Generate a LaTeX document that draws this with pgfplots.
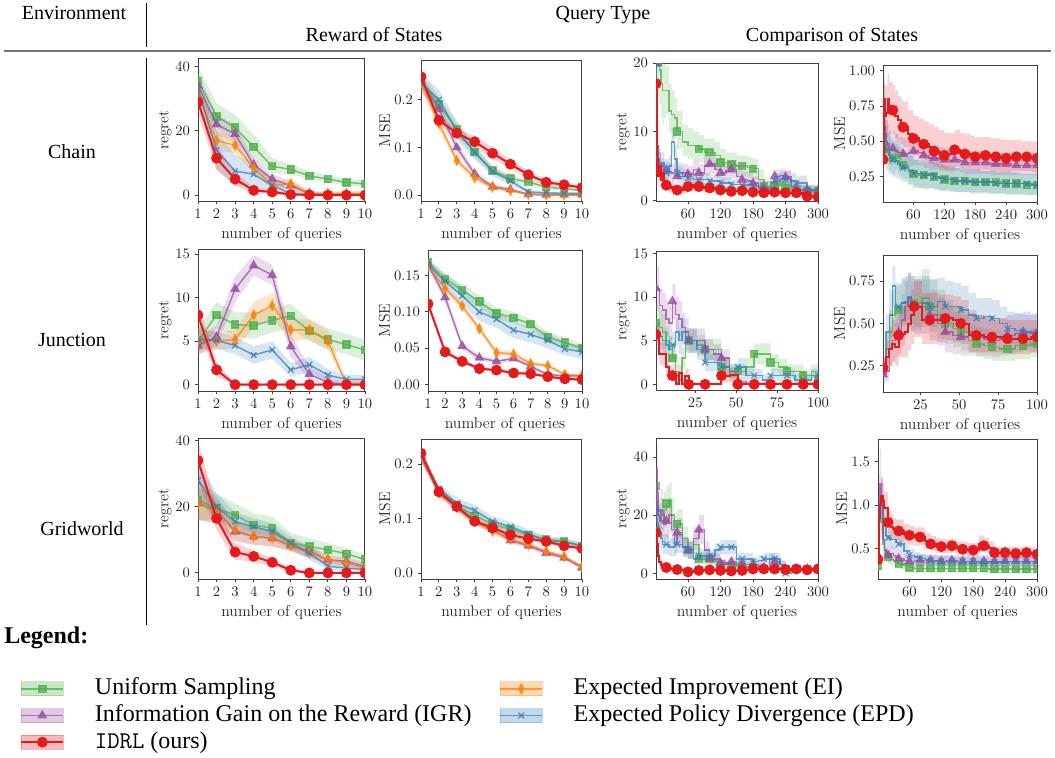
\documentclass[border=0pt]{standalone}
\usepackage{fontspec}
\usepackage{pgfplots}
\usepackage{pgfplotstable}
\pgfplotsset{compat=1.18}
\usepgfplotslibrary{fillbetween}
\newfontfamily\tnr{Liberation Serif}
\definecolor{cg}{HTML}{4DAF4A}
\definecolor{cp}{HTML}{984EA3}
\definecolor{co}{HTML}{FF7F00}
\definecolor{cb}{HTML}{377EB8}
\definecolor{cr}{HTML}{E41A1C}
\pgfplotsset{
  stg/.style={cg, line width=1.1pt, opacity=0.75, mark=square*, mark size=2.6pt, mark options={solid}},
  stp/.style={cp, line width=1.1pt, opacity=0.75, mark=triangle*, mark size=3.3pt, mark options={solid}},
  sto/.style={co, line width=1.1pt, opacity=0.75, mark=diamond*, mark size=3.4pt, mark options={solid, xscale=0.7}},
  stb/.style={cb, line width=1.1pt, opacity=0.75, mark=x, mark size=3pt, mark options={solid}},
  str/.style={cr, line width=1.5pt, mark=*, mark size=3.3pt, mark options={solid}},
  panel/.style={
    scale only axis, anchor=south west,
    axis line style={black!75, line width=0.75pt},
    every tick/.style={black!75, line width=0.6pt},
    major tick length=2.5pt,
    tick align=outside, tick pos=left,
    tick label style={font=\fontsize{10.8}{12}\selectfont, color=black!85},
    label style={font=\fontsize{11.8}{13}\selectfont, color=black!85},
    ylabel style={yshift=-4pt},
    xlabel={number of queries},
    scaled ticks=false,
    clip marker paths=true,
  },
  ten/.style={xmin=1, xmax=10, xtick={1,2,3,4,5,6,7,8,9,10}},
  three/.style={xmin=1, xmax=300, xtick={60,120,180,240,300}},
  hund/.style={xmin=1, xmax=100, xtick={25,50,75,100}},
  mk300/.style={const plot, mark indices={1,10,14,16,18,20,22,24,26,28,30,32,34,36,38,40}},
  mk100/.style={const plot, mark indices={1,6,11,13,15,17,19,21,23,25,27}},
  yp1/.style={yticklabel style={/pgf/number format/fixed, /pgf/number format/fixed zerofill, /pgf/number format/precision=1}},
  yp2/.style={yticklabel style={/pgf/number format/fixed, /pgf/number format/fixed zerofill, /pgf/number format/precision=2}},
}
\newcommand\ser[3][]{%
  \addplot[draw=none, mark=none, forget plot, name path=U#3, #1] table[x=x, y=#3h] {#2};
  \addplot[draw=none, mark=none, forget plot, name path=L#3, #1] table[x=x, y=#3l] {#2};
  \addplot[fill=c#3, fill opacity=0.2, draw=none, forget plot] fill between[of=U#3 and L#3];
  \addplot[st#3, #1] table[x=x, y=#3] {#2};
}
% Chain, reward of states, regret
\pgfplotstableread{
x g gl gh p pl ph o ol oh b bl bh r rl rh
1 35.5 31 40 34 30 38 32 28 36 33 29 37 29 25 33
2 24.5 21 28.5 22 19 25 17 14 20 14 8 20 11.5 8 15.5
3 21 17 25 19 16 22 15.5 13 18 7.5 3 12.5 5 3 7
4 15 11 19 9.5 7.5 11.5 8.5 7 10 6.5 3 10 1.5 0.5 2.5
5 9 7 11.5 5 3.5 6.5 3 2 4.5 3 1 5.5 1 0.3 1.8
6 8 6.5 9.5 3 1.5 4.5 3.5 2 5 0.5 0 1.5 0.2 0 0.6
7 6 5 7.5 0.5 0 1.2 0.5 0 1.3 0.1 0 0.5 0.1 0 0.4
8 5 4 6.3 0.3 0 0.8 0.5 0 1.3 0 0 0.3 0 0 0.2
9 4 3 5 0.3 0 0.8 0.5 0 1.3 0 0 0.3 0 0 0.2
10 3.5 2.5 4.5 0.3 0 0.8 0.5 0 1.3 0 0 0.3 0 0 0.2
}\tA
% Chain, reward of states, MSE
\pgfplotstableread{
x g gl gh p pl ph o ol oh b bl bh r rl rh
1 0.24 0.225 0.255 0.24 0.228 0.252 0.235 0.222 0.248 0.235 0.215 0.255 0.248 0.24 0.256
2 0.19 0.175 0.205 0.18 0.165 0.195 0.15 0.138 0.162 0.2 0.18 0.22 0.157 0.148 0.166
3 0.138 0.125 0.151 0.1 0.09 0.11 0.073 0.065 0.081 0.135 0.115 0.155 0.13 0.12 0.14
4 0.09 0.08 0.1 0.045 0.038 0.052 0.037 0.031 0.043 0.09 0.075 0.105 0.112 0.1 0.124
5 0.052 0.045 0.06 0.018 0.013 0.023 0.017 0.012 0.022 0.05 0.04 0.06 0.088 0.076 0.1
6 0.035 0.028 0.042 0.012 0.008 0.016 0.01 0.006 0.014 0.03 0.022 0.038 0.065 0.055 0.075
7 0.028 0.022 0.034 0.002 0 0.004 0.002 0 0.004 0.007 0.003 0.011 0.043 0.035 0.051
8 0.017 0.012 0.022 0.001 0 0.003 0.001 0 0.003 0.005 0.002 0.008 0.027 0.021 0.033
9 0.014 0.01 0.018 0.001 0 0.003 0.001 0 0.003 0.004 0.001 0.007 0.022 0.017 0.027
10 0.01 0.007 0.013 0.001 0 0.003 0.001 0 0.003 0.004 0.001 0.007 0.016 0.012 0.02
}\tB
% Chain, comparison, regret
\pgfplotstableread{
x g gl gh p pl ph b bl bh r rl rh
1 22 18 28 20 16 24 20 16 24 17 13 20
2 21 17 27 15 11 19 17 13 21 8 5 11
3 21 17 27 11 7 15 12 8 16 4 2.5 6
4 20.5 16 26 8 5 11 8 5 11 6 4 8
5 20 15 25 6 4 8 6 4 8 3.5 2 5
7 19 14 24 5 3 7 5.5 3.5 7.5 5 3 7
10 17 12 22 4.5 3 6 5 3.5 7 3 2 4.5
13 16 11 21 4.5 3 6 5.5 4 7 4 2.5 5.5
16 16 12 20 4.2 3 5.5 4.5 3 6 2.5 1.5 3.5
20 16 12.5 19.5 4.4 3 6 4 2.8 5.5 2.2 1.4 3
25 13 10 17 4.2 3 5.5 5 3.5 6.5 1.8 1.1 2.5
30 12.5 9 16 4 2.8 5.3 8.5 6.5 10.5 2 1.3 2.8
35 12 9 15 4.5 3 6 6 4.5 8 1.6 1 2.3
40 10 7.5 13 3.5 2.5 5 4 3 5.5 1.5 0.9 2.2
50 8.5 6.5 11 4 2.8 5.3 3.5 2.5 4.5 1.8 1.1 2.5
60 8 6 10.5 3.8 2.7 5 3.2 2.3 4.2 2 1.3 2.7
70 8 6 10 4.5 3 6 3 2.2 4 2.2 1.5 2.9
80 7.5 5.5 9.5 4 2.8 5.3 3 2.2 4 2 1.3 2.7
90 7 5 9 5 3.5 6.5 3 2.2 4 1.8 1.2 2.5
100 7 5 9 5.3 3.8 6.8 2.8 2 3.7 1.8 1.2 2.5
110 6.5 4.5 8.5 4.5 3.2 6 2.8 2 3.7 1.7 1.1 2.3
120 5.5 4 7.5 4 2.8 5.3 2.5 1.8 3.3 1.5 1 2.1
130 5.5 4 7 4.3 3 5.6 2.5 1.8 3.3 1.4 0.9 2
140 5.2 3.8 7 4.5 3.2 5.8 2.3 1.6 3 1.3 0.8 1.9
150 5 3.5 6.5 3.5 2.5 4.8 2.3 1.6 3 1.4 0.9 2
160 5 3.5 6.5 3 2 4.2 2.2 1.5 3 1.4 0.9 2
170 4.8 3.3 6.3 2.8 1.8 4 2.2 1.5 3 1.3 0.8 1.9
180 4.6 3 6 2.5 1.6 3.5 2 1.4 2.7 1.2 0.7 1.7
190 3 2 4.5 2 1.2 3 1.8 1.2 2.5 1.2 0.7 1.7
200 2 1.2 3 1.8 1 2.8 1.5 1 2.2 1.1 0.7 1.6
210 2 1.2 3 1.8 1 2.8 1.5 1 2.2 1.2 0.7 1.7
220 2.2 1.3 3.2 3.5 2.5 4.5 2.8 1.8 4 1.2 0.7 1.7
230 2.5 1.5 3.5 3.6 2.6 4.6 3 2 4.2 1.1 0.7 1.6
240 1.8 1 2.8 3.4 2.4 4.4 3 2 4.2 1.1 0.7 1.6
250 1.6 0.9 2.5 2 1.2 3 2.8 1.8 4 1 0.6 1.5
260 1.5 0.8 2.3 1.6 1 2.4 2.5 1.6 3.6 1.1 0.6 1.6
270 1.5 0.8 2.2 1.5 0.9 2.2 2.5 1.6 3.6 0.9 0.5 1.4
280 1.3 0.7 2 1.5 0.9 2.2 1.5 1 2.2 0.6 0.3 1
290 1.3 0.7 2 1.4 0.8 2.1 1.5 1 2.2 0.6 0.3 1
300 1.2 0.6 1.8 1.4 0.8 2 1.5 1 2.1 0.5 0.2 0.9
}\tC
% Chain, comparison, MSE
\pgfplotstableread{
x g gl gh p pl ph b bl bh r rl rh
1 0.45 0.3 0.6 0.45 0.35 0.6 0.4 0.25 0.55 0.37 0.3 0.45
2 0.8 0.6 1.0 0.55 0.4 0.75 0.65 0.45 0.85 0.6 0.45 0.8
3 0.7 0.5 0.9 0.7 0.5 0.9 0.6 0.42 0.8 0.8 0.6 0.98
4 0.6 0.45 0.8 0.6 0.45 0.8 0.55 0.38 0.72 0.72 0.55 0.92
5 0.55 0.4 0.75 0.55 0.4 0.72 0.5 0.35 0.65 0.68 0.52 0.9
7 0.5 0.35 0.65 0.5 0.38 0.65 0.45 0.3 0.6 0.7 0.52 0.9
10 0.45 0.32 0.6 0.48 0.36 0.62 0.42 0.28 0.56 0.8 0.6 0.98
13 0.42 0.3 0.56 0.45 0.34 0.58 0.4 0.27 0.53 0.72 0.55 0.92
16 0.4 0.28 0.52 0.44 0.33 0.56 0.38 0.26 0.5 0.75 0.56 0.92
20 0.38 0.27 0.5 0.45 0.34 0.57 0.37 0.25 0.49 0.72 0.55 0.9
25 0.42 0.3 0.55 0.43 0.33 0.55 0.36 0.24 0.48 0.68 0.52 0.86
30 0.38 0.27 0.5 0.42 0.32 0.53 0.34 0.23 0.46 0.65 0.5 0.82
35 0.35 0.25 0.46 0.42 0.32 0.53 0.33 0.22 0.44 0.62 0.48 0.8
40 0.33 0.23 0.44 0.41 0.31 0.52 0.31 0.21 0.42 0.6 0.46 0.78
50 0.3 0.2 0.4 0.42 0.32 0.52 0.29 0.19 0.4 0.55 0.42 0.72
60 0.27 0.18 0.37 0.43 0.33 0.52 0.27 0.17 0.37 0.52 0.4 0.68
70 0.26 0.17 0.35 0.42 0.33 0.51 0.27 0.17 0.37 0.5 0.38 0.66
80 0.26 0.17 0.35 0.4 0.31 0.49 0.26 0.16 0.36 0.48 0.36 0.64
90 0.26 0.17 0.35 0.38 0.3 0.47 0.27 0.17 0.36 0.46 0.34 0.62
100 0.25 0.16 0.34 0.38 0.3 0.47 0.25 0.16 0.35 0.43 0.32 0.6
110 0.24 0.15 0.33 0.37 0.29 0.46 0.24 0.15 0.34 0.42 0.31 0.58
120 0.23 0.15 0.32 0.37 0.29 0.45 0.23 0.15 0.33 0.4 0.3 0.56
130 0.23 0.15 0.31 0.36 0.28 0.45 0.23 0.14 0.32 0.41 0.3 0.56
140 0.22 0.14 0.31 0.37 0.29 0.45 0.22 0.14 0.31 0.44 0.32 0.58
150 0.22 0.14 0.3 0.36 0.28 0.44 0.22 0.14 0.31 0.42 0.31 0.56
160 0.22 0.14 0.3 0.35 0.27 0.43 0.22 0.14 0.3 0.41 0.3 0.55
170 0.22 0.14 0.3 0.35 0.27 0.43 0.21 0.13 0.3 0.4 0.3 0.54
180 0.21 0.14 0.29 0.35 0.27 0.43 0.21 0.13 0.3 0.39 0.29 0.53
190 0.21 0.14 0.29 0.35 0.27 0.43 0.21 0.13 0.29 0.4 0.3 0.53
200 0.21 0.14 0.29 0.35 0.27 0.42 0.21 0.13 0.29 0.4 0.3 0.53
210 0.21 0.13 0.29 0.34 0.26 0.42 0.21 0.13 0.29 0.39 0.29 0.52
220 0.21 0.13 0.29 0.34 0.26 0.42 0.2 0.13 0.28 0.39 0.29 0.52
230 0.2 0.13 0.28 0.34 0.26 0.42 0.2 0.13 0.28 0.38 0.28 0.51
240 0.2 0.13 0.28 0.34 0.26 0.42 0.2 0.12 0.28 0.38 0.28 0.51
250 0.2 0.13 0.28 0.33 0.26 0.41 0.2 0.12 0.28 0.39 0.29 0.51
260 0.2 0.13 0.28 0.33 0.26 0.41 0.2 0.12 0.27 0.39 0.29 0.51
270 0.2 0.13 0.27 0.33 0.26 0.41 0.2 0.12 0.27 0.39 0.29 0.5
280 0.19 0.12 0.27 0.33 0.26 0.41 0.2 0.12 0.27 0.39 0.29 0.5
290 0.19 0.12 0.27 0.33 0.26 0.41 0.19 0.12 0.27 0.38 0.28 0.5
300 0.19 0.12 0.27 0.33 0.26 0.4 0.19 0.12 0.26 0.38 0.28 0.49
}\tD
% Junction, reward of states, regret
\pgfplotstableread{
x g gl gh p pl ph o ol oh b bl bh r rl rh
1 5 3.5 6.5 4.5 3.5 5.5 5 3.5 6.5 5.2 4 6.3 8 6.5 9.5
2 8 6.5 9.5 5.5 4.5 6.8 5 4 6 5.1 4.1 6.1 1.7 0.9 2.6
3 6.9 5.5 8.3 11 9.5 12.5 5.2 4.2 6.3 4.5 3.5 5.5 0 0 0.2
4 6.8 5.3 8.3 13.7 12.5 14.9 8 6.5 9.5 3.4 2.4 4.4 0 0 0.2
5 7.4 6 8.8 12.6 11.5 13.8 9.1 7.7 10.6 4 3 5 0 0 0.2
6 7.9 6.5 9.3 4.4 3.2 5.8 6.3 5 7.6 1.7 0.9 2.5 0 0 0.2
7 6.2 5 7.5 1.2 0.5 2 6.3 5.2 7.5 2.3 1.4 3.2 0 0 0.2
8 5.2 4 6.5 0.3 0 0.8 5 4 6.2 1.1 0.5 1.8 0 0 0.2
9 4.6 3.5 5.8 0 0 0.3 0 0 0.5 0.6 0.1 1.1 0 0 0.2
10 4 2.8 5.2 0 0 0.3 0 0 0.5 0.6 0.1 1.1 0 0 0.2
}\tE
% Junction, reward of states, MSE
\pgfplotstableread{
x g gl gh p pl ph o ol oh b bl bh r rl rh
1 0.168 0.163 0.173 0.166 0.16 0.172 0.163 0.158 0.168 0.165 0.158 0.172 0.111 0.106 0.116
2 0.145 0.138 0.152 0.12 0.113 0.127 0.132 0.127 0.137 0.142 0.132 0.152 0.045 0.042 0.048
3 0.13 0.122 0.138 0.053 0.048 0.058 0.108 0.103 0.113 0.122 0.11 0.134 0.032 0.029 0.035
4 0.114 0.106 0.122 0.037 0.033 0.041 0.077 0.072 0.082 0.1 0.088 0.112 0.022 0.02 0.025
5 0.098 0.09 0.106 0.032 0.029 0.035 0.044 0.04 0.048 0.09 0.078 0.102 0.02 0.017 0.023
6 0.092 0.084 0.1 0.036 0.033 0.039 0.042 0.038 0.046 0.075 0.064 0.086 0.016 0.014 0.019
7 0.083 0.076 0.09 0.025 0.022 0.028 0.029 0.026 0.032 0.069 0.058 0.08 0.015 0.013 0.018
8 0.065 0.058 0.072 0.014 0.012 0.016 0.026 0.023 0.029 0.061 0.05 0.072 0.011 0.009 0.013
9 0.058 0.051 0.065 0.012 0.01 0.014 0.014 0.012 0.016 0.049 0.04 0.058 0.008 0.006 0.01
10 0.05 0.044 0.056 0.012 0.01 0.014 0.012 0.01 0.014 0.045 0.036 0.054 0.007 0.005 0.009
}\tF
% Junction, comparison, regret
\pgfplotstableread{
x g gl gh p pl ph b bl bh r rl rh
1 7 5 9 11 8.5 13.5 6 4.5 7.5 5.7 4.5 7
3 6.5 4.5 8.5 9 7 11 5.5 4 7 3.5 2.2 4.8
5 6 4 8 8.5 6.5 10.5 5 3.5 6.5 3.5 2.2 4.8
7 5 3.3 6.7 7.5 5.5 9.5 4.5 3 6 2 1 3
9 4 2.5 5.5 7 5 9 4 2.5 5.5 1.3 0.5 2.2
11 3 1.7 4.3 9.5 7.5 11.5 4.5 3 6 1 0.3 1.8
13 1.5 0.5 2.5 8 6 10 6 4.5 7.5 0 0 0.5
15 0.5 0 1.3 7.5 5.5 9.5 5 3.5 6.5 1.3 0.4 2.2
17 3 1.8 4.2 6.5 4.8 8.2 6 4.5 7.5 0 0 0.5
19 5 3.8 6.2 6 4.4 7.6 5 3.6 6.4 1 0.2 1.8
21 5 3.8 6.2 5 3.6 6.4 5 3.6 6.4 0 0 0.3
26 4.5 3.3 5.7 5 3.6 6.4 4 2.8 5.2 0 0 0.2
31 4 2.8 5.2 4 2.8 5.2 2.5 1.5 3.5 0 0 0.2
36 4 2.8 5.2 3.5 2.4 4.6 2.5 1.5 3.5 0 0 0.2
41 2 1 3 3 2 4 2 1.2 3 1 0.2 1.8
46 1.5 0.7 2.3 1 0.3 1.8 1.5 0.8 2.3 1.1 0.3 1.9
51 1.5 0.7 2.3 0.3 0 0.8 2 1 3 0 0 0.2
56 2 1 3 0 0 0.3 1 0.4 1.8 0 0 0.2
61 3.5 2.3 4.7 0 0 0.3 1 0.4 1.8 0 0 0.2
66 3.5 2.3 4.7 0 0 0.3 0.5 0 1.2 0 0 0.2
71 2.5 1.5 3.5 0 0 0.3 1 0.4 1.8 0 0 0.2
76 2 1.1 2.9 0 0 0.3 1 0.4 1.8 0 0 0.2
81 1.5 0.7 2.3 0 0 0.3 1 0.3 1.8 0 0 0.2
86 1.5 0.7 2.3 0 0 0.3 0.5 0 1.2 0 0 0.2
91 1 0.4 1.7 0 0 0.3 0.5 0 1.2 0 0 0.2
96 1.5 0.7 2.3 0 0 0.3 1 0.3 1.8 0 0 0.2
100 0.5 0 1.2 0 0 0.3 1 0.3 1.8 0 0 0.2
}\tG
% Junction, comparison, MSE
\pgfplotstableread{
x g gl gh p pl ph b bl bh r rl rh
1 0.25 0.2 0.3 0.2 0.15 0.25 0.25 0.2 0.3 0.24 0.2 0.3
3 0.35 0.27 0.45 0.22 0.16 0.3 0.45 0.35 0.55 0.3 0.22 0.4
5 0.45 0.35 0.58 0.35 0.25 0.47 0.55 0.42 0.7 0.35 0.25 0.48
7 0.55 0.42 0.7 0.4 0.28 0.54 0.72 0.6 0.84 0.38 0.27 0.52
9 0.57 0.44 0.72 0.43 0.3 0.58 0.6 0.48 0.74 0.36 0.25 0.5
11 0.58 0.45 0.73 0.45 0.32 0.6 0.6 0.48 0.74 0.43 0.3 0.58
13 0.62 0.48 0.77 0.52 0.37 0.67 0.62 0.5 0.76 0.44 0.3 0.6
15 0.62 0.48 0.77 0.6 0.44 0.75 0.63 0.5 0.78 0.45 0.3 0.62
17 0.63 0.48 0.78 0.65 0.48 0.8 0.66 0.52 0.8 0.5 0.34 0.66
19 0.6 0.45 0.75 0.62 0.46 0.78 0.63 0.5 0.78 0.55 0.38 0.7
21 0.62 0.46 0.78 0.6 0.44 0.76 0.6 0.48 0.76 0.6 0.42 0.75
26 0.65 0.48 0.82 0.6 0.44 0.76 0.62 0.5 0.78 0.52 0.38 0.68
31 0.6 0.45 0.76 0.55 0.4 0.7 0.6 0.48 0.76 0.52 0.38 0.68
36 0.55 0.41 0.7 0.5 0.37 0.65 0.63 0.5 0.77 0.52 0.39 0.67
41 0.5 0.38 0.64 0.45 0.33 0.6 0.6 0.48 0.75 0.53 0.4 0.67
46 0.47 0.36 0.6 0.43 0.32 0.57 0.6 0.48 0.74 0.52 0.39 0.66
51 0.45 0.34 0.57 0.42 0.31 0.55 0.58 0.46 0.72 0.5 0.38 0.64
56 0.4 0.31 0.5 0.45 0.33 0.58 0.55 0.44 0.68 0.43 0.33 0.56
61 0.38 0.3 0.48 0.42 0.31 0.55 0.53 0.42 0.65 0.43 0.33 0.55
66 0.37 0.29 0.47 0.41 0.31 0.53 0.54 0.43 0.65 0.42 0.33 0.54
71 0.36 0.28 0.46 0.4 0.3 0.52 0.53 0.42 0.64 0.42 0.33 0.53
76 0.35 0.28 0.44 0.41 0.31 0.53 0.5 0.4 0.6 0.42 0.33 0.53
81 0.35 0.28 0.44 0.43 0.32 0.55 0.47 0.38 0.57 0.41 0.32 0.52
86 0.37 0.29 0.46 0.44 0.33 0.56 0.46 0.37 0.56 0.41 0.32 0.52
91 0.37 0.29 0.46 0.45 0.34 0.57 0.45 0.36 0.55 0.41 0.32 0.52
96 0.38 0.3 0.47 0.44 0.33 0.56 0.45 0.36 0.55 0.42 0.33 0.52
100 0.38 0.3 0.47 0.44 0.33 0.56 0.45 0.36 0.55 0.42 0.33 0.52
}\tH
% Gridworld, reward of states, regret
\pgfplotstableread{
x g gl gh p pl ph o ol oh b bl bh r rl rh
1 22 16 28 21 16 26 21 16 26 28 22 34 34 28 40
2 19.5 16 24 19 15 23 18.5 15 22 20 16 24 16.5 13 20
3 17.5 14.5 21 12.5 9.5 15.5 13 10 16 15.5 12.5 18.5 6.3 4 9
4 14.5 12 18 11 8.5 13.5 11 8.5 13.5 14 11.5 16.5 5 3.3 6.7
5 13.5 11 17 10.5 8 13 10.5 8 13 12.5 10 15 3.2 2 4.5
6 9 7 12 8.3 6.5 10 8.3 6.5 10 9 7 11 0.8 0.2 1.5
7 8 6 10.5 6.5 4.8 8.2 6.2 4.5 8 6 4 8 0 0 0.4
8 7 5 9 4 2.8 5.2 4 2.8 5.2 2 1 3.5 0 0 0.3
9 5.8 4 7.5 3.5 2.3 4.7 3 2 4 1.5 0.5 2.5 0 0 0.3
10 4 2.5 5.5 2 1 3 1.5 0.7 2.3 1 0.3 2 0 0 0.3
}\tI
% Gridworld, reward of states, MSE
\pgfplotstableread{
x g gl gh p pl ph o ol oh b bl bh r rl rh
1 0.215 0.205 0.225 0.215 0.205 0.225 0.215 0.205 0.225 0.215 0.205 0.225 0.22 0.21 0.23
2 0.15 0.143 0.157 0.148 0.141 0.155 0.147 0.14 0.154 0.155 0.146 0.164 0.149 0.142 0.156
3 0.125 0.118 0.132 0.12 0.113 0.127 0.12 0.113 0.127 0.128 0.118 0.138 0.122 0.116 0.128
4 0.105 0.098 0.112 0.095 0.089 0.101 0.095 0.089 0.101 0.115 0.105 0.125 0.095 0.089 0.101
5 0.09 0.083 0.097 0.08 0.074 0.086 0.077 0.071 0.083 0.095 0.086 0.104 0.083 0.077 0.089
6 0.08 0.074 0.086 0.06 0.055 0.065 0.062 0.057 0.067 0.085 0.076 0.094 0.07 0.065 0.075
7 0.07 0.064 0.076 0.05 0.045 0.055 0.052 0.047 0.057 0.072 0.064 0.08 0.063 0.058 0.068
8 0.062 0.057 0.067 0.037 0.033 0.041 0.04 0.036 0.044 0.06 0.053 0.067 0.058 0.053 0.063
9 0.058 0.053 0.063 0.028 0.024 0.032 0.03 0.026 0.034 0.057 0.05 0.064 0.05 0.046 0.054
10 0.05 0.045 0.055 0.01 0.007 0.013 0.012 0.009 0.015 0.05 0.044 0.056 0.045 0.041 0.049
}\tJ
% Gridworld, comparison, regret
\pgfplotstableread{
x g gl gh p pl ph b bl bh r rl rh
1 30 22 38 22 14 30 22 15 29 14 10 18
2 25 17 33 30 20 40 20 13 27 12 8 16
3 22 15 29 36 26 44 18 12 24 10 6.5 13.5
4 20 13 27 28 19 37 17 11 23 8 5 11
5 20 13 27 20 13 27 16 10 22 6 3.5 8.5
7 19 12 26 18 12 24 14 9 19 4 2 6
10 18 12 24 22 15 29 12 8 16 3 1.5 4.5
13 18 12 24 20 14 26 10 6.5 13.5 2.5 1.3 3.7
16 22 16 28 17 11 23 10 6.5 13.5 2 1 3
20 24 18 30 18 12 24 10 6.5 13.5 2 1 3
25 25 19 31 20 14 26 9 6 12 1.6 0.8 2.4
30 20 14 26 15 10 20 9 6 12 1.5 0.8 2.2
35 15 10 20 10 6 14 10 7 13 1.4 0.7 2.1
40 17 12 22 14 9 19 10 7 13 1.3 0.6 2
50 12 8 16 9 5.5 12.5 9 6 12 1.2 0.6 1.8
60 8 5 11 8 5 11 8 5 11 0.5 0.1 0.9
70 10 6.5 13.5 12 8 16 5 3 7.5 0.8 0.3 1.3
80 5 3 7.5 15 10 20 6 4 8.5 1 0.4 1.6
90 5 3 7 8 5 11 6 4 8.5 1.1 0.5 1.7
100 5 3 7 5 3 7 6 4 8 1.2 0.6 1.8
110 4 2.5 5.5 5 3 7 8 5.5 10.5 1.1 0.5 1.7
120 3 1.8 4.2 3.5 2 5 9 6.5 11.5 1 0.4 1.6
130 3 1.8 4.2 3 1.8 4.2 9 6.5 11.5 0.9 0.4 1.4
140 2.5 1.5 3.5 4 2.5 5.5 9 6.5 11.5 0.8 0.3 1.3
150 2.5 1.5 3.5 3 1.8 4.2 5 3 7 0.9 0.4 1.4
160 2.3 1.4 3.2 3 1.8 4.2 5 3 7 1 0.4 1.6
170 2.2 1.3 3.1 3 1.8 4.2 5 3 7 1.2 0.6 1.8
180 2 1.2 2.8 3 1.8 4.2 4 2.5 5.5 1.5 0.8 2.2
190 1.8 1 2.6 2.5 1.5 3.5 4.5 2.8 6.2 1.5 0.8 2.2
200 1.5 0.9 2.1 2 1.2 2.8 5 3 7 1.5 0.8 2.2
210 1.5 0.9 2.1 5 3 7 5 3 7 1.5 0.8 2.2
220 1.6 0.9 2.3 4 2.5 5.5 5 3 7 1.5 0.8 2.2
230 1.5 0.9 2.1 3 1.8 4.2 3 1.5 4.5 1.4 0.7 2.1
240 1.5 0.9 2.1 1.5 0.9 2.1 0 0 1 1.3 0.7 1.9
250 1.4 0.8 2 1.5 0.9 2.1 1 0.3 1.7 1.4 0.7 2.1
260 1.5 0.9 2.1 1.5 0.9 2.1 1.2 0.5 1.9 1.5 0.8 2.2
270 1.5 0.9 2.1 1.5 0.9 2.1 1.5 0.8 2.2 1.4 0.7 2.1
280 1.4 0.8 2 1.5 0.9 2.1 1.5 0.8 2.2 1.2 0.6 1.8
290 1.5 0.9 2.1 1.4 0.8 2 1.5 0.8 2.2 1.3 0.7 1.9
300 1.5 0.9 2.1 1.5 0.9 2.1 1.5 0.8 2.2 1.5 0.8 2.2
}\tK
% Gridworld, comparison, MSE
\pgfplotstableread{
x g gl gh p pl ph b bl bh r rl rh
1 0.3 0.22 0.4 0.4 0.3 0.5 0.4 0.3 0.5 0.37 0.3 0.45
2 0.5 0.35 0.65 0.7 0.5 0.95 0.6 0.45 0.8 0.6 0.45 0.8
3 0.7 0.5 0.9 1.0 0.7 1.35 0.85 0.65 1.05 0.85 0.65 1.05
4 0.8 0.6 1.0 1.2 0.85 1.6 0.95 0.75 1.15 0.9 0.7 1.1
5 0.85 0.65 1.05 1.25 0.9 1.65 1.0 0.8 1.2 1.0 0.8 1.2
7 0.8 0.6 1.0 1.0 0.7 1.3 1.05 0.85 1.25 1.1 0.88 1.32
10 0.55 0.42 0.7 0.6 0.45 0.8 0.8 0.65 0.95 1.05 0.85 1.25
13 0.48 0.38 0.6 0.48 0.38 0.6 0.75 0.6 0.9 0.97 0.8 1.15
16 0.42 0.34 0.52 0.45 0.36 0.55 0.65 0.55 0.77 0.97 0.8 1.15
20 0.4 0.32 0.48 0.42 0.34 0.52 0.62 0.52 0.73 0.8 0.66 0.95
25 0.37 0.3 0.45 0.44 0.36 0.53 0.6 0.5 0.7 0.75 0.62 0.9
30 0.35 0.29 0.42 0.42 0.34 0.51 0.6 0.5 0.7 0.72 0.6 0.85
35 0.33 0.27 0.4 0.4 0.33 0.48 0.57 0.48 0.67 0.7 0.58 0.83
40 0.32 0.26 0.38 0.38 0.31 0.46 0.55 0.46 0.64 0.7 0.58 0.83
50 0.3 0.25 0.36 0.36 0.3 0.43 0.47 0.4 0.55 0.66 0.55 0.78
60 0.28 0.23 0.34 0.35 0.29 0.42 0.42 0.36 0.49 0.65 0.54 0.76
70 0.27 0.22 0.33 0.36 0.3 0.43 0.4 0.34 0.46 0.63 0.53 0.74
80 0.27 0.22 0.33 0.36 0.3 0.43 0.38 0.33 0.44 0.63 0.53 0.74
90 0.27 0.22 0.33 0.36 0.3 0.42 0.37 0.32 0.43 0.58 0.49 0.68
100 0.27 0.22 0.33 0.36 0.3 0.42 0.36 0.31 0.42 0.55 0.47 0.64
110 0.27 0.22 0.33 0.36 0.3 0.42 0.35 0.3 0.41 0.53 0.45 0.62
120 0.27 0.22 0.33 0.35 0.29 0.42 0.35 0.3 0.41 0.52 0.44 0.61
130 0.27 0.22 0.33 0.36 0.3 0.42 0.35 0.3 0.41 0.52 0.44 0.6
140 0.27 0.22 0.33 0.36 0.3 0.42 0.35 0.3 0.4 0.53 0.45 0.61
150 0.27 0.22 0.33 0.35 0.29 0.42 0.35 0.3 0.4 0.5 0.43 0.58
160 0.27 0.22 0.33 0.35 0.29 0.42 0.35 0.3 0.4 0.49 0.42 0.57
170 0.27 0.22 0.33 0.35 0.29 0.42 0.35 0.3 0.4 0.48 0.41 0.56
180 0.27 0.22 0.32 0.35 0.29 0.42 0.35 0.3 0.4 0.48 0.41 0.56
190 0.27 0.22 0.32 0.35 0.29 0.42 0.34 0.29 0.4 0.55 0.46 0.65
200 0.27 0.22 0.32 0.35 0.29 0.42 0.34 0.29 0.4 0.53 0.45 0.62
210 0.26 0.21 0.32 0.35 0.29 0.41 0.34 0.29 0.4 0.5 0.43 0.58
220 0.26 0.21 0.32 0.35 0.29 0.41 0.34 0.29 0.4 0.45 0.39 0.52
230 0.26 0.21 0.32 0.35 0.29 0.41 0.34 0.29 0.4 0.45 0.39 0.52
240 0.26 0.21 0.32 0.35 0.29 0.41 0.35 0.3 0.4 0.45 0.39 0.52
250 0.26 0.21 0.32 0.35 0.29 0.41 0.35 0.3 0.4 0.45 0.39 0.52
260 0.26 0.21 0.32 0.35 0.29 0.41 0.35 0.3 0.4 0.44 0.38 0.51
270 0.26 0.21 0.32 0.35 0.29 0.41 0.35 0.3 0.4 0.44 0.38 0.51
280 0.26 0.21 0.32 0.35 0.29 0.41 0.35 0.3 0.4 0.45 0.39 0.52
290 0.26 0.21 0.32 0.35 0.29 0.41 0.35 0.3 0.4 0.44 0.38 0.51
300 0.26 0.21 0.32 0.35 0.29 0.41 0.35 0.3 0.4 0.43 0.37 0.5
}\tL
\begin{document}
\begin{tikzpicture}
\path (0pt,0pt) rectangle (791.25pt,-567.75pt);
% ---------------- row 1: Chain
\begin{axis}[panel, ten, at={(148.5pt,-150.75pt)}, width=125.25pt, height=106.5pt, ymin=-1.8, ymax=42.3, ytick={0,20,40}, ylabel={regret}]
\ser{\tA}{g}\ser{\tA}{p}\ser{\tA}{o}\ser{\tA}{b}\ser{\tA}{r}
\end{axis}
\begin{axis}[panel, ten, yp1, at={(315.75pt,-150.75pt)}, width=120.75pt, height=105.75pt, ymin=-0.012, ymax=0.283, ytick={0,0.1,0.2}, ylabel={MSE}]
\ser{\tB}{g}\ser{\tB}{p}\ser{\tB}{o}\ser{\tB}{b}\ser{\tB}{r}
\end{axis}
\begin{axis}[panel, three, at={(492pt,-150.75pt)}, width=121.5pt, height=103.5pt, ymin=-0.1, ymax=20, ytick={0,10,20}, ylabel={regret}]
\ser[mk300]{\tC}{g}\ser[mk300]{\tC}{p}\ser[mk300]{\tC}{b}\ser[mk300]{\tC}{r}
\end{axis}
\begin{axis}[panel, three, yp2, at={(662.25pt,-151.5pt)}, width=115.5pt, height=102.75pt, ymin=0.07, ymax=1.04, ytick={0.25,0.5,0.75,1}, ylabel={MSE}]
\ser[mk300]{\tD}{g}\ser[mk300]{\tD}{p}\ser[mk300]{\tD}{b}\ser[mk300]{\tD}{r}
\end{axis}
% ---------------- row 2: Junction
\begin{axis}[panel, ten, at={(148.5pt,-293.25pt)}, width=125.25pt, height=106.5pt, ymin=-0.73, ymax=15.6, ytick={0,5,10,15}, ylabel={regret}]
\ser{\tE}{g}\ser{\tE}{p}\ser{\tE}{o}\ser{\tE}{b}\ser{\tE}{r}
\end{axis}
\begin{axis}[panel, ten, yp2, at={(321pt,-293.25pt)}, width=115.5pt, height=105.75pt, ymin=-0.0087, ymax=0.185, ytick={0,0.05,0.1,0.15}, ylabel={MSE}]
\ser{\tF}{g}\ser{\tF}{p}\ser{\tF}{o}\ser{\tF}{b}\ser{\tF}{r}
\end{axis}
\begin{axis}[panel, hund, at={(492pt,-292.5pt)}, width=121.5pt, height=104.25pt, ymin=-0.65, ymax=15.27, ytick={0,5,10,15}, ylabel={regret}]
\ser[mk100]{\tG}{g}\ser[mk100]{\tG}{p}\ser[mk100]{\tG}{b}\ser[mk100]{\tG}{r}
\end{axis}
\begin{axis}[panel, hund, yp2, at={(662.25pt,-294pt)}, width=115.5pt, height=102.75pt, ymin=0.096, ymax=0.904, ytick={0.25,0.5,0.75}, ylabel={MSE}]
\ser[mk100]{\tH}{g}\ser[mk100]{\tH}{p}\ser[mk100]{\tH}{b}\ser[mk100]{\tH}{r}
\end{axis}
% ---------------- row 3: Gridworld
\begin{axis}[panel, ten, at={(148.5pt,-434.25pt)}, width=125.25pt, height=105.75pt, ymin=-1.85, ymax=40.8, ytick={0,20,40}, ylabel={regret}]
\ser{\tI}{g}\ser{\tI}{p}\ser{\tI}{o}\ser{\tI}{b}\ser{\tI}{r}
\end{axis}
\begin{axis}[panel, ten, yp1, at={(315.75pt,-434.25pt)}, width=120.75pt, height=105pt, ymin=-0.011, ymax=0.246, ytick={0,0.1,0.2}, ylabel={MSE}]
\ser{\tJ}{g}\ser{\tJ}{p}\ser{\tJ}{o}\ser{\tJ}{b}\ser{\tJ}{r}
\end{axis}
\begin{axis}[panel, three, at={(492pt,-434.25pt)}, width=121.5pt, height=105.75pt, ymin=-1.94, ymax=46.5, ytick={0,20,40}, ylabel={regret}]
\ser[mk300]{\tK}{g}\ser[mk300]{\tK}{p}\ser[mk300]{\tK}{b}\ser[mk300]{\tK}{r}
\end{axis}
\begin{axis}[panel, three, yp1, at={(658.5pt,-434.25pt)}, width=119.25pt, height=105pt, ymin=0.146, ymax=1.76, ytick={0.5,1,1.5}, ylabel={MSE}]
\ser[mk300]{\tL}{g}\ser[mk300]{\tL}{p}\ser[mk300]{\tL}{b}\ser[mk300]{\tL}{r}
\end{axis}
% ---------------- legend
\begin{axis}[at={(0pt,0pt)}, anchor=north west, scale only axis, width=791.25pt, height=567.75pt,
  xmin=0, xmax=1, ymin=0, ymax=1, hide axis, legend columns=2, legend cell align=left,
  legend image code/.code={
    \fill[#1, draw opacity=0.3, fill opacity=0.3, line width=0.6pt] (0pt,-5.25pt) rectangle (31.5pt,5.25pt);
    \draw[mark repeat=2, mark phase=2, #1] plot coordinates {(0pt,0pt) (15.75pt,0pt) (31.5pt,0pt)};
  },
  legend style={at={(0.019,0.108)}, anchor=north west, draw=none, fill=none, inner sep=0pt, row sep=0pt,
    font=\tnr\fontsize{18}{21}\selectfont,
    nodes={inner sep=1pt, text height=13.5pt, text depth=4.5pt},
    /tikz/every odd column/.append style={column sep=22pt},
    /tikz/every even column/.append style={column sep=20pt}},
]
\addplot[draw=none, mark=none, forget plot] coordinates {(0,0) (1,1)};
\addlegendimage{stg}\addlegendentry{Uniform Sampling}
\addlegendimage{sto}\addlegendentry{Expected Improvement (EI)}
\addlegendimage{stp}\addlegendentry{Information Gain on the Reward (IGR)}
\addlegendimage{stb}\addlegendentry{Expected Policy Divergence (EPD)}
\addlegendimage{str}\addlegendentry{\texttt{IDRL} (ours)}
\end{axis}
% ---------------- header and row labels
\begin{scope}[x=0.75pt, y=-0.75pt]
\tikzset{hd/.style={font=\tnr\fontsize{15}{18}\selectfont, anchor=base, inner sep=0pt}}
\node[hd] at (74,19) {Environment};
\node[hd] at (603,19) {Query Type};
\node[hd] at (374,41) {Reward of States};
\node[hd] at (832,41) {Comparison of States};
\node[hd] at (72,158) {Chain};
\node[hd] at (72,346) {Junction};
\node[hd] at (82,535) {Gridworld};
\node[anchor=base west, inner sep=0pt, font=\tnr\bfseries\fontsize{18}{21}\selectfont] at (4,643) {Legend:};
\draw[line width=0.75pt] (146,3) -- (146,47);
\draw[line width=0.75pt] (146,58) -- (146,625);
\draw[line width=1.5pt, black!55] (4,50.5) -- (1051,50.5);
\end{scope}
\end{tikzpicture}
\end{document}
